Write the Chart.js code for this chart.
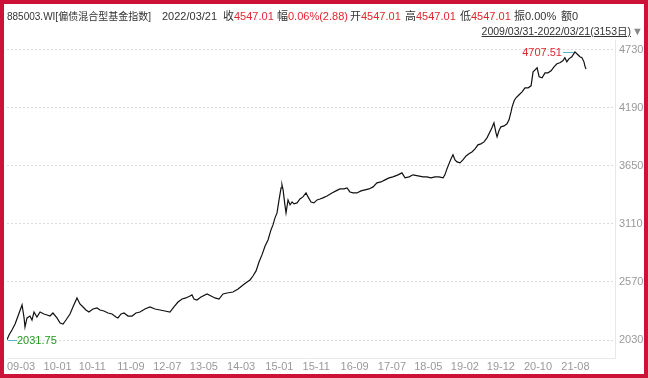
<!DOCTYPE html>
<html>
<head>
<meta charset="utf-8">
<script src="https://cdn.jsdelivr.net/npm/chart.js@4.4.0/dist/chart.umd.min.js"></script>
<style>
  body { margin: 0; background: #fff; }
  #wrap { position: relative; width: 648px; height: 378px; overflow: hidden; }
  #frame { position: absolute; left: 0; top: 0; width: 648px; height: 378px; box-sizing: border-box;
           border: 4px solid #cc1236; pointer-events: none; }
  .t { position: absolute; font-family: "Liberation Sans", "Noto Sans CJK SC", sans-serif; font-size: 11px;
       color: #333; white-space: nowrap; line-height: 13px; }
  .r { color: #e3262b; }
  canvas { position: absolute; left: 0; top: 0; }
</style>
</head>
<body>
<div id="wrap">
  <canvas id="chart" width="648" height="378"></canvas>
  <div class="t" style="left:7px;top:10px;font-size:10px">885003.WI[偏债混合型基金指数]</div>
  <div class="t" style="left:162px;top:10px">2022/03/21</div>
  <div class="t" style="left:223px;top:10px">收<span class="r">4547.01</span></div>
  <div class="t" style="left:277px;top:10px">幅<span class="r">0.06%(2.88)</span></div>
  <div class="t" style="left:350px;top:10px">开<span class="r">4547.01</span></div>
  <div class="t" style="left:405px;top:10px">高<span class="r">4547.01</span></div>
  <div class="t" style="left:460px;top:10px">低<span class="r">4547.01</span></div>
  <div class="t" style="left:514px;top:10px">振0.00%</div>
  <div class="t" style="left:561px;top:10px">额0</div>
  <div class="t" style="right:17px;top:25px;font-size:10.5px;text-decoration:underline">2009/03/31-2022/03/21(3153日)</div>
  <div class="t" style="left:632px;top:25px;color:#888">▼</div>
  <div id="frame"></div>
</div>
<script>
// trading day index since 2009/03/31 and close of the index
const days = [0, 11, 27, 44, 60, 82, 93, 98, 109, 125, 136, 147, 163, 180, 201, 218, 234, 250, 272, 289,
  305, 321, 343, 359, 381, 397, 414, 430, 446, 468, 490, 506, 528, 550, 572, 593, 604, 621, 637, 659,
  681, 702, 724, 751, 778, 806, 833, 860, 887, 909, 931, 953, 974, 996, 1007, 1018, 1034, 1056, 1089, 1111,
  1132, 1154, 1176, 1198, 1230, 1258, 1285, 1307, 1323, 1339, 1356, 1372, 1388, 1405, 1421, 1437, 1448, 1459, 1470, 1481,
  1492, 1497, 1503, 1513, 1519, 1530, 1541, 1552, 1562, 1579, 1595, 1611, 1628, 1639, 1655, 1671, 1688, 1704, 1720, 1742,
  1769, 1791, 1813, 1835, 1851, 1867, 1884, 1905, 1927, 1949, 1971, 1993, 2014, 2036, 2058, 2080, 2101, 2129, 2150, 2167,
  2189, 2210, 2238, 2265, 2286, 2308, 2330, 2352, 2374, 2384, 2395, 2406, 2417, 2428, 2439, 2450, 2466, 2482, 2499, 2515,
  2531, 2548, 2564, 2580, 2597, 2613, 2629, 2640, 2651, 2662, 2668, 2678, 2689, 2706, 2722, 2733, 2744, 2750, 2761, 2771,
  2788, 2804, 2820, 2837, 2853, 2864, 2875, 2886, 2897, 2913, 2929, 2945, 2962, 2978, 2994, 3010, 3026, 3037, 3048, 3059,
  3075, 3092, 3108, 3119, 3130, 3141, 3146, 3152];
const closes = [2031.75, 2077, 2123, 2179, 2253, 2356, 2235, 2151, 2235, 2253, 2216, 2290, 2244, 2290, 2272, 2263, 2253, 2281, 2235, 2188,
  2179, 2216, 2272, 2337, 2421, 2365, 2337, 2309, 2290, 2318, 2328, 2309, 2300, 2281, 2272, 2244, 2235, 2272, 2281, 2253,
  2253, 2281, 2290, 2318, 2337, 2318, 2309, 2300, 2290, 2337, 2383, 2411, 2421, 2439, 2449, 2411, 2402, 2430, 2458, 2439,
  2421, 2411, 2458, 2467, 2476, 2504, 2542, 2569, 2588, 2625, 2672, 2755, 2821, 2904, 2960, 3053, 3100, 3165, 3211, 3332,
  3444, 3472, 3425, 3286, 3211, 3332, 3286, 3313, 3295, 3304, 3341, 3360, 3397, 3360, 3313, 3304, 3332, 3341, 3351, 3369,
  3397, 3416, 3434, 3434, 3444, 3406, 3397, 3397, 3416, 3425, 3434, 3453, 3490, 3499, 3518, 3537, 3546, 3565, 3583, 3537,
  3546, 3565, 3555, 3546, 3546, 3537, 3546, 3546, 3537, 3565, 3620, 3667, 3713, 3751, 3704, 3685, 3676, 3704, 3741, 3760,
  3778, 3806, 3844, 3853, 3871, 3909, 3964, 4002, 4048, 3955, 3918, 3974, 4011, 4020, 4039, 4076, 4150, 4197, 4253, 4281,
  4309, 4336, 4374, 4374, 4392, 4522, 4541, 4560, 4476, 4467, 4513, 4513, 4532, 4569, 4597, 4606, 4625, 4653, 4615, 4643,
  4662, 4707.51, 4681, 4662, 4653, 4615, 4578, 4547.01];

const yTicks = [2030, 2570, 3110, 3650, 4190, 4730];
const xTickDays = [0, 199, 390, 600, 796, 995, 1198, 1406, 1609, 1816, 2019, 2217, 2416, 2612, 2814, 3018];
const xTickLabels = ['09-03', '10-01', '10-11', '11-09', '12-07', '13-05', '14-03', '15-01',
  '15-11', '16-09', '17-07', '18-05', '19-02', '19-12', '20-10', '21-08'];

const FONT = '"Liberation Sans", "Noto Sans CJK SC", sans-serif';

// marks the lowest and highest close with a small leader line
const extremes = {
  id: 'extremes',
  afterDatasetsDraw(chart) {
    const ctx = chart.ctx, xs = chart.scales.x, ys = chart.scales.y;
    let lo = 0, hi = 0;
    closes.forEach((v, i) => { if (v < closes[lo]) lo = i; if (v > closes[hi]) hi = i; });
    ctx.save();
    ctx.font = '11px ' + FONT;
    ctx.textBaseline = 'middle';
    ctx.strokeStyle = '#5ab4c8';
    ctx.lineWidth = 1;

    let px = xs.getPixelForValue(days[lo]), py = Math.round(ys.getPixelForValue(closes[lo])) + 0.5;
    ctx.beginPath(); ctx.moveTo(px + 1, py); ctx.lineTo(px + 10, py); ctx.stroke();
    ctx.fillStyle = '#239a23'; ctx.textAlign = 'left';
    ctx.fillText(closes[lo].toFixed(2), px + 10, py);

    px = xs.getPixelForValue(days[hi]); py = Math.round(ys.getPixelForValue(closes[hi])) + 0.5;
    ctx.beginPath(); ctx.moveTo(px - 12, py); ctx.lineTo(px - 1, py); ctx.stroke();
    ctx.fillStyle = '#e3262b'; ctx.textAlign = 'right';
    ctx.fillText(closes[hi].toFixed(2), px - 13, py);
    ctx.restore();
  }
};

new Chart(document.getElementById('chart'), {
  type: 'line',
  data: {
    datasets: [{
      data: days.map((d, i) => ({ x: d, y: closes[i] })),
      borderColor: '#111',
      borderWidth: 1.2,
      pointRadius: 0,
      tension: 0
    }]
  },
  options: {
    responsive: false,
    animation: false,
    devicePixelRatio: 1,
    layout: { padding: { left: 7, top: 40, right: 0, bottom: 0 } },
    plugins: { legend: { display: false }, tooltip: { enabled: false } },
    scales: {
      x: {
        type: 'linear',
        min: 0,
        max: 3310,
        afterFit: (a) => { a.height = 20; },
        afterBuildTicks: (a) => { a.ticks = xTickDays.map(v => ({ value: v })); },
        grid: { display: false, drawTicks: false },
        border: { display: true, color: '#e8e8e8' },
        ticks: {
          autoSkip: false, maxRotation: 0, align: 'start', padding: 2,
          color: '#999', font: { size: 11, family: FONT },
          callback: (v, i) => xTickLabels[i]
        }
      },
      y: {
        position: 'right',
        min: 1863,
        max: 4818,
        afterFit: (a) => { a.width = 33; },
        afterBuildTicks: (a) => { a.ticks = yTicks.map(v => ({ value: v })); },
        grid: { color: '#dcdcdc', drawTicks: false },
        border: { display: true, color: '#e8e8e8', dash: [2, 2] },
        ticks: { padding: 4, color: '#999', font: { size: 11, family: FONT }, callback: (v) => String(v) }
      }
    }
  },
  plugins: [extremes]
});
</script>
</body>
</html>
